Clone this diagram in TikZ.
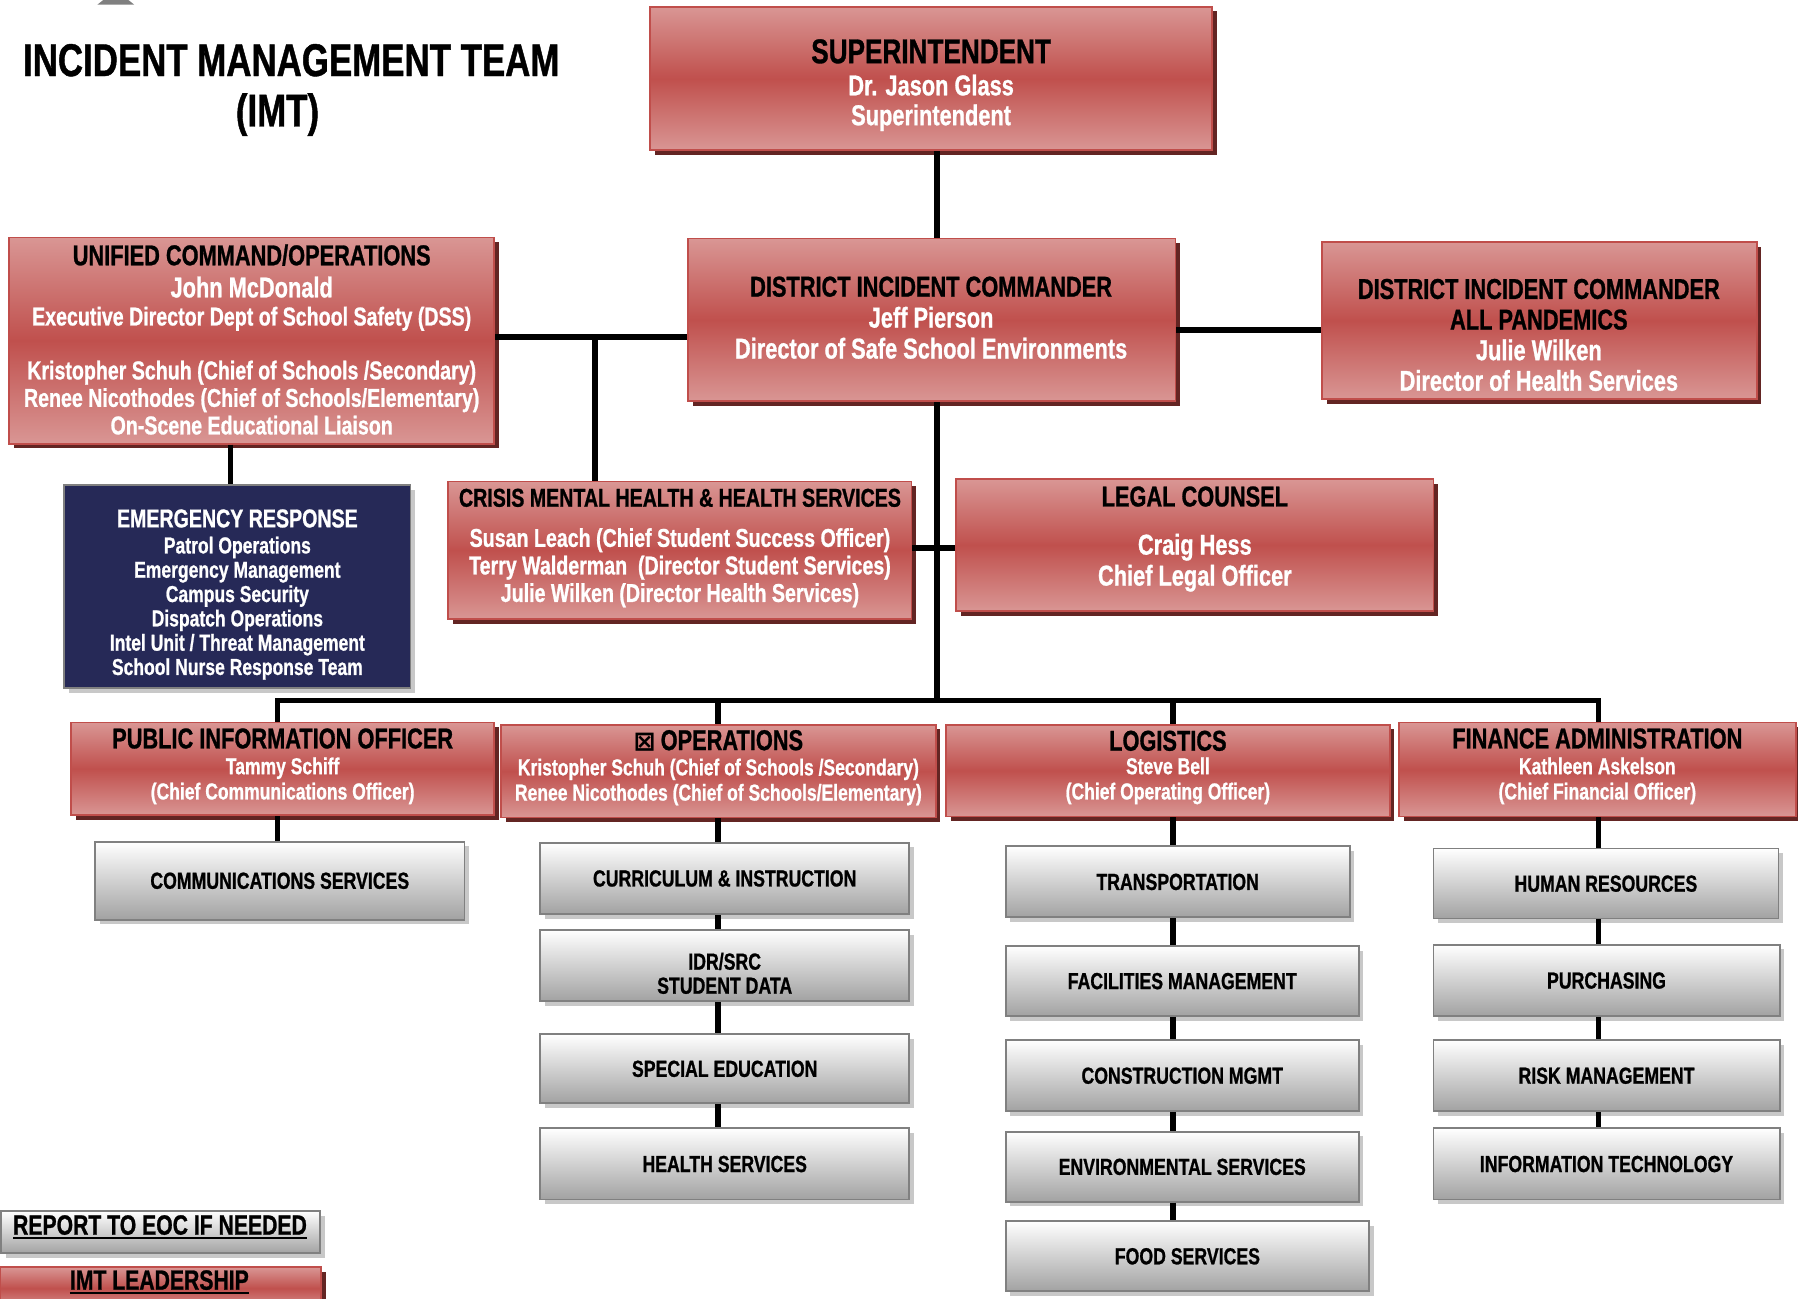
\documentclass[tikz,border=0pt]{standalone}
\usepackage{fontspec}
\setmainfont{Liberation Sans}[FakeStretch=0.76, BoldFeatures={FakeBold=0.9}]
\newfontfamily\symf{DejaVu Sans}
\usetikzlibrary{shadows}
\definecolor{redmid}{RGB}{192,80,77}
\definecolor{redlight}{RGB}{217,150,148}
\definecolor{redborder}{RGB}{192,78,75}
\definecolor{redshadow}{RGB}{99,37,35}
\definecolor{navy}{RGB}{38,41,87}
\definecolor{grayborder}{RGB}{128,128,128}
\definecolor{graybot}{RGB}{162,162,162}
\definecolor{grayshadow}{RGB}{200,200,200}
\newcommand\fsz[2]{\fontsize{#1}{#2}\selectfont}
\newcommand\hdr[1]{{\color{black}#1}}
\newcommand\myul[1]{\setbox0\hbox{#1}\leavevmode\rlap{\rule[-4pt]{\wd0}{2.2pt}}\box0}
\newcommand\mkbox[7][redbox]{\node[#1, minimum width={(#5)-(#3)}, minimum height={(#6)-(#4)}] (#2) at ({((#3)+(#5))/2},{((#4)+(#6))/2}) {#7};}
\tikzset{
  redbox/.style={draw=redborder, line width=1.5pt, top color=redlight, bottom color=redlight, middle color=redmid,
    drop shadow={shadow xshift=4pt, shadow yshift=-4pt, opacity=1, fill=redshadow}, inner sep=0pt},
  graybox/.style={draw=grayborder, line width=1.5pt, top color=white, bottom color=graybot,
    drop shadow={shadow xshift=4pt, shadow yshift=-4pt, opacity=1, fill=grayshadow}, inner sep=0pt,
    font=\bfseries\fsz{20.3}{21}, align=center, text=black, text depth=0pt},
  navybox/.style={draw=grayborder, line width=1.5pt, fill=navy,
    drop shadow={shadow xshift=4pt, shadow yshift=-4pt, opacity=1, fill=grayshadow}, inner sep=0pt},
  txt/.style={inner sep=0pt, align=center, anchor=north, text=white},
  conn/.style={line width=5pt, draw=black},
}
\begin{document}
\begin{tikzpicture}[x=1pt,y=-1pt]
\useasboundingbox (0,0) rectangle (1568,1132);
\fill[grayborder] (85,4) -- (90,0) -- (112,0) -- (117,4) -- cycle;
% title
\node[anchor=base, inner sep=0pt, font=\bfseries\fsz{40}{44}] (title1) at (254,66.3) {INCIDENT MANAGEMENT TEAM};
\node[anchor=base, inner sep=0pt, font=\bfseries\fsz{40}{44}] (title2) at (242,110.3) {(IMT)};
% red boxes
\mkbox{sup}{567}{6}{1057}{131}{}
\mkbox{dic}{600}{208}{1025}{350}{}
\mkbox{uc}{8}{207}{431}{387}{}
\mkbox{pan}{1153}{211}{1532}{348}{}
\mkbox[navybox]{er}{56}{423}{358}{600}{}
\mkbox{cmh}{391}{420}{795}{540}{}
\mkbox{legal}{834}{418}{1250}{533}{}
\mkbox{pio}{62}{630}{431}{711}{}
\mkbox{ops}{437}{632}{816}{713}{}
\mkbox{log}{825}{632}{1212}{712}{}
\mkbox{fin}{1220}{630}{1566}{712}{}
% gray boxes
\mkbox[graybox]{com}{83}{734}{405}{802}{COMMUNICATIONS SERVICES}
\mkbox[graybox]{cur}{471}{735}{793}{797}{CURRICULUM \& INSTRUCTION}
\mkbox[graybox]{idr}{471}{811}{793}{873}{}
\mkbox[graybox]{sped}{471}{902}{793}{962}{SPECIAL EDUCATION}
\mkbox[graybox]{hs}{471}{984}{793}{1046}{HEALTH SERVICES}
\mkbox[graybox]{tra}{877}{738}{1177}{800}{TRANSPORTATION}
\mkbox[graybox]{fac}{877}{825}{1185}{886}{FACILITIES MANAGEMENT}
\mkbox[graybox]{con}{877}{907}{1185}{969}{CONSTRUCTION MGMT}
\mkbox[graybox]{env}{877}{987}{1185}{1048}{ENVIRONMENTAL SERVICES}
\mkbox[graybox]{food}{877}{1065}{1194}{1126}{FOOD SERVICES}
\mkbox[graybox]{hr}{1250}{740}{1551}{801}{HUMAN RESOURCES}
\mkbox[graybox]{pur}{1250}{824}{1552}{886}{PURCHASING}
\mkbox[graybox]{risk}{1250}{907}{1552}{969}{RISK MANAGEMENT}
\mkbox[graybox]{it}{1250}{984}{1552}{1046}{INFORMATION TECHNOLOGY}
% legend
\mkbox[graybox]{eoc}{1}{1056}{279}{1093}{}
\mkbox{imt}{0}{1105}{280}{1142}{}
% coordinates for connector lines
\coordinate (sx) at (817,0);
\coordinate (ja) at (519,294);
\coordinate (pj) at (0,288);
\coordinate (ex) at (201,0);
\coordinate (xr) at (0,478);
\coordinate (bus) at (817,611);
\coordinate (ca) at (242,611);
\coordinate (cb) at (626,611);
\coordinate (cc) at (1023,611);
\coordinate (cd) at (1394,611);
% connectors
\draw[conn] (sup.south -| sx) -- (dic.north -| sx);
\draw[conn] (uc.east |- ja) -- (dic.west |- ja);
\draw[conn] (ja) -- (ja |- cmh.north);
\draw[conn] (dic.east |- pj) -- (pan.west |- pj);
\draw[conn] (uc.south -| ex) -- (er.north -| ex);
\draw[conn] (dic.south -| sx) -- (bus);
\draw[conn] (cmh.east |- xr) -- (legal.west |- xr);
\draw[conn] (pio.north -| ca) -- (ca) -- (cd) -- (fin.north -| cd);
\draw[conn] (cb) -- (ops.north -| cb);
\draw[conn] (cc) -- (log.north -| cc);
\draw[conn] (pio.south -| ca) -- (com.north -| ca);
\draw[conn] (ops.south -| cb) -- (cur.north -| cb);
\draw[conn] (cur.south -| cb) -- (idr.north -| cb);
\draw[conn] (idr.south -| cb) -- (sped.north -| cb);
\draw[conn] (sped.south -| cb) -- (hs.north -| cb);
\draw[conn] (log.south -| cc) -- (tra.north -| cc);
\draw[conn] (tra.south -| cc) -- (fac.north -| cc);
\draw[conn] (fac.south -| cc) -- (con.north -| cc);
\draw[conn] (con.south -| cc) -- (env.north -| cc);
\draw[conn] (env.south -| cc) -- (food.north -| cc);
\draw[conn] (fin.south -| cd) -- (hr.north -| cd);
\draw[conn] (hr.south -| cd) -- (pur.north -| cd);
\draw[conn] (pur.south -| cd) -- (risk.north -| cd);
\draw[conn] (risk.south -| cd) -- (it.north -| cd);
% texts
\node[txt, text=black, font=\bfseries\fsz{20.3}{21}] (idrT) at (632,830.7) {IDR/SRC\\STUDENT DATA};
\node[txt, font=\bfseries\fsz{25}{26}] (supT) at (812,34) {\hdr{\fsz{30}{30}SUPERINTENDENT}\\[2pt] Dr. Jason Glass\\ Superintendent};
\node[txt, font=\bfseries\fsz{25}{27}] (dicT) at (812,241) {\hdr{DISTRICT INCIDENT COMMANDER}\\ Jeff Pierson\\ Director of Safe School Environments};
\node[txt, font=\bfseries\fsz{22.5}{24}] (ucT) at (219.5,213) {\hdr{\fsz{25}{25}UNIFIED COMMAND/OPERATIONS}\\[4pt] {\fsz{25}{25}John McDonald}\\[0.5pt] Executive Director Dept of School Safety (DSS)\\[23pt] Kristopher Schuh (Chief of Schools /Secondary)\\ Renee Nicothodes (Chief of Schools/Elementary)\\ On-Scene Educational Liaison};
\node[txt, font=\bfseries\fsz{25}{26.7}] (panT) at (1342,243) {\hdr{DISTRICT INCIDENT COMMANDER}\\ \hdr{ALL PANDEMICS}\\ Julie Wilken\\ Director of Health Services};
\node[txt, font=\bfseries\fsz{20.1}{21.2}] (erT) at (207,444) {{\fsz{22.5}{22.5}EMERGENCY RESPONSE}\\[1.5pt] Patrol Operations\\ Emergency Management\\ Campus Security\\ Dispatch Operations\\ Intel Unit / Threat Management\\ School Nurse Response Team};
\node[txt, font=\bfseries\fsz{22.5}{24}] (cmhT) at (593,426) {\hdr{CRISIS MENTAL HEALTH \& HEALTH SERVICES}\\[11pt] Susan Leach (Chief Student Success Officer)\\ Terry Walderman\ \ (Director Student Services)\\ Julie Wilken (Director Health Services)};
\node[txt, font=\bfseries\fsz{25}{27}] (legalT) at (1042,424) {\hdr{LEGAL COUNSEL}\\[15pt] Craig Hess\\ Chief Legal Officer};
\node[txt, font=\bfseries\fsz{20.1}{22}] (pioT) at (246.5,635) {\hdr{\fsz{25}{25}PUBLIC INFORMATION OFFICER}\\[0.5pt] Tammy Schiff\\ (Chief Communications Officer)};
\node[txt, font=\bfseries\fsz{20.1}{22}] (opsT) at (626.5,636.5) {\hdr{{\symf\bfseries\fsz{23}{23}⊠} \fsz{25}{25}OPERATIONS}\\[0pt] Kristopher Schuh (Chief of Schools /Secondary)\\ Renee Nicothodes (Chief of Schools/Elementary)};
\node[txt, font=\bfseries\fsz{20.1}{22}] (logT) at (1018.5,637) {\hdr{\fsz{25}{25}LOGISTICS}\\[-1.5pt] Steve Bell\\ (Chief Operating Officer)};
\node[txt, font=\bfseries\fsz{20.1}{22}] (finT) at (1393,635) {\hdr{\fsz{25}{25}FINANCE ADMINISTRATION}\\[0.5pt] Kathleen Askelson\\ (Chief Financial Officer)};
\node[anchor=base, inner sep=0pt, font=\bfseries\fsz{24.3}{26}] (eocT) at (139.5,1076.7) {\myul{REPORT TO EOC IF NEEDED}};
\node[anchor=base, inner sep=0pt, font=\bfseries\fsz{24.3}{26}] (imtT) at (139,1124.7) {\myul{IMT LEADERSHIP}};
\end{tikzpicture}
\end{document}
